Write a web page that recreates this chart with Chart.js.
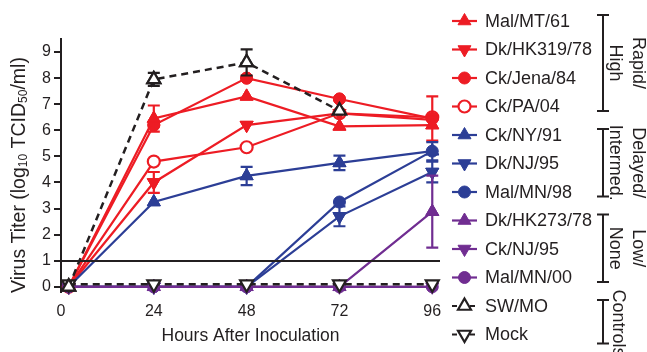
<!DOCTYPE html>
<html>
<head>
<meta charset="utf-8">
<script src="https://cdn.jsdelivr.net/npm/chart.js"></script>
<style>
  html, body { margin: 0; padding: 0; background: #fff; }
</style>
</head>
<body>
<canvas id="grafico" width="647" height="352"></canvas>
<script>
// data
const hours = [2, 24, 48, 72, 96];
const xTicks = [0, 24, 48, 72, 96];
const yTicks = [0, 1, 2, 3, 4, 5, 6, 7, 8, 9];
const detectionLimit = 1;

const malMT61 = [0, 6.45, 7.3, 6.15, 6.2];
const malMT61Err = [null, 0.5, null, null, null];
const dkHK319 = [0, 4.0, 6.2, 6.65, 6.4];
const dkHK319Err = [null, 0.4, null, null, null];
const ckJena = [0, 6.2, 8.0, 7.2, 6.45];
const ckJenaErr = [null, null, null, null, 0.85];
const ckPA = [0, 4.8, 5.35, 6.65, 6.5];
const ckNY = [0, 3.25, 4.25, 4.75, 5.2];
const ckNYErr = [null, null, 0.35, 0.28, 0.35];
const dkNJ = [0, 0, 0, 2.7, 4.4];
const dkNJErr = [null, null, null, 0.38, 0.4];
const malMN98 = [0, 0, 0, 3.25, 5.2];
const dkHK273 = [0, 0, 0, 0, 2.88];
const dkHK273Err = [null, null, null, null, 1.38];
const ckNJ95 = [0, 0, 0, 0, 0];
const malMN00 = [0, 0, 0, 0, 0];
const swMO = [0, 7.95, 8.6, 6.75, null];
const swMOErr = [null, 0.25, 0.5, null, null];
const mock = [0.1, 0.1, 0.1, 0.1, 0.1];

const seriesNames = ['Mal/MT/61', 'Dk/HK319/78', 'Ck/Jena/84', 'Ck/PA/04',
  'Ck/NY/91', 'Dk/NJ/95', 'Mal/MN/98',
  'Dk/HK273/78', 'Ck/NJ/95', 'Mal/MN/00',
  'SW/MO', 'Mock'];

const ROJO = 'rgb(237, 28, 36)';
const AZUL = 'rgb(44, 62, 150)';
const LILA = 'rgb(112, 45, 145)';
const NEGRO = '#231f20';
const FUENTE = '"Liberation Sans", Arial, sans-serif';

function serie(i, valores, errores, color, estilo, abajo, hueco, orden) {
  const control = color === NEGRO;
  return {
    label: seriesNames[i],
    data: valores.map((v, k) => ({ x: hours[k], y: v })),
    errores: errores,
    borderColor: color,
    backgroundColor: color,
    borderWidth: control ? 2.5 : 2.2,
    borderDash: control ? [7, 5] : [],
    pointStyle: estilo,
    pointRotation: abajo ? 180 : 0,
    pointRadius: estilo === 'circle' ? 6 : 7.5,
    pointBorderWidth: hueco ? 2.2 : 1,
    pointBorderColor: color,
    pointBackgroundColor: hueco ? '#fff' : color,
    spanGaps: false,
    clip: false,
    order: orden
  };
}

const datasets = [
  serie(0, malMT61, malMT61Err, ROJO, 'triangle', false, false, 3),
  serie(1, dkHK319, dkHK319Err, ROJO, 'triangle', true, false, 3),
  serie(2, ckJena, ckJenaErr, ROJO, 'circle', false, false, 3),
  serie(3, ckPA, null, ROJO, 'circle', false, true, 3),
  serie(4, ckNY, ckNYErr, AZUL, 'triangle', false, false, 2),
  serie(5, dkNJ, dkNJErr, AZUL, 'triangle', true, false, 2),
  serie(6, malMN98, null, AZUL, 'circle', false, false, 2),
  serie(7, dkHK273, dkHK273Err, LILA, 'triangle', false, false, 1),
  serie(8, ckNJ95, null, LILA, 'triangle', true, false, 1),
  serie(9, malMN00, null, LILA, 'circle', false, false, 1),
  serie(10, swMO, swMOErr, NEGRO, 'triangle', false, true, 0),
  serie(11, mock, null, NEGRO, 'triangle', true, true, 0)
];

// bracket groups on the right of the legend
const grupos = [
  { textos: ['Rapid/', 'High'], desde: 0, hasta: 3 },
  { textos: ['Delayed/', 'Intermed.'], desde: 4, hasta: 6 },
  { textos: ['Low/', 'None'], desde: 7, hasta: 9 },
  { textos: ['Controls'], desde: 10, hasta: 11 }
];

function marcador(ctx, ds, x, y) {
  const r = ds.pointRadius;
  ctx.save();
  ctx.fillStyle = ds.pointBackgroundColor;
  ctx.strokeStyle = ds.pointBorderColor;
  ctx.lineWidth = ds.pointBorderWidth;
  ctx.setLineDash([]);
  ctx.beginPath();
  if (ds.pointStyle === 'circle') {
    ctx.arc(x, y, r, 0, Math.PI * 2);
  } else {
    let a = ds.pointRotation * Math.PI / 180;
    for (let k = 0; k < 3; k++) {
      const px = x + Math.sin(a) * r, py = y - Math.cos(a) * r;
      if (k === 0) ctx.moveTo(px, py); else ctx.lineTo(px, py);
      a += 2 * Math.PI / 3;
    }
    ctx.closePath();
  }
  ctx.fill();
  ctx.stroke();
  ctx.restore();
}

const barrasError = {
  id: 'barrasError',
  afterDatasetDraw(chart, args) {
    const ds = chart.data.datasets[args.index];
    if (!ds.errores) return;
    const ctx = chart.ctx, xs = chart.scales.x, ys = chart.scales.y;
    ctx.save();
    ctx.strokeStyle = ds.borderColor;
    ctx.lineWidth = 2.2;
    ds.errores.forEach((e, k) => {
      if (e == null) return;
      const x = xs.getPixelForValue(ds.data[k].x);
      const y1 = ys.getPixelForValue(ds.data[k].y + e);
      const y2 = ys.getPixelForValue(ds.data[k].y - e);
      ctx.beginPath();
      ctx.moveTo(x, y1); ctx.lineTo(x, y2);
      ctx.moveTo(x - 6, y1); ctx.lineTo(x + 6, y1);
      ctx.moveTo(x - 6, y2); ctx.lineTo(x + 6, y2);
      ctx.stroke();
    });
    ctx.restore();
    // redraw markers over the bars
    args.meta.data.forEach((p, k) => {
      if (ds.data[k].y != null) marcador(ctx, ds, p.x, p.y);
    });
  }
};

const extras = {
  id: 'extras',
  afterDatasetsDraw(chart) {
    const ctx = chart.ctx, area = chart.chartArea, ys = chart.scales.y;
    // detection limit line
    const yl = Math.round(ys.getPixelForValue(detectionLimit));
    ctx.save();
    ctx.strokeStyle = NEGRO;
    ctx.lineWidth = 2;
    ctx.beginPath();
    ctx.moveTo(area.left, yl);
    ctx.lineTo(area.right, yl);
    ctx.stroke();
    ctx.restore();
  },
  afterDraw(chart) {
    const ctx = chart.ctx;
    ctx.save();
    ctx.fillStyle = NEGRO;
    ctx.textBaseline = 'middle';

    // y axis title with subscripts
    const partes = [['Virus Titer (log', 19.5, 0], ['10', 12, 4], [' TCID', 19.5, 0], ['50', 12, 4], ['/ml)', 19.5, 0]];
    let ancho = 0;
    partes.forEach(p => { ctx.font = p[1] + 'px ' + FUENTE; ancho += ctx.measureText(p[0]).width; });
    ctx.translate(20, 175);
    ctx.rotate(-Math.PI / 2);
    let cx = -ancho / 2;
    ctx.textAlign = 'left';
    partes.forEach(p => {
      ctx.font = p[1] + 'px ' + FUENTE;
      ctx.fillText(p[0], cx, p[2]);
      cx += ctx.measureText(p[0]).width;
    });
    ctx.setTransform(1, 0, 0, 1, 0, 0);

    // legend
    const fila0 = 21, paso = 28.5;
    chart.data.datasets.forEach((ds, i) => {
      const y = fila0 + i * paso;
      ctx.strokeStyle = ds.borderColor;
      ctx.lineWidth = 2.2;
      ctx.setLineDash(ds.borderColor === NEGRO ? [5, 4] : []);
      ctx.beginPath();
      ctx.moveTo(452, y); ctx.lineTo(477, y);
      ctx.stroke();
      ctx.setLineDash([]);
      marcador(ctx, ds, 464.5, y);
      ctx.fillStyle = NEGRO;
      ctx.font = '18px ' + FUENTE;
      ctx.textAlign = 'left';
      ctx.fillText(ds.label, 485, y + 1);
    });

    // brackets
    ctx.strokeStyle = NEGRO;
    ctx.lineWidth = 2;
    grupos.forEach((g, n) => {
      const top = fila0 + g.desde * paso - 6;
      const bot = fila0 + g.hasta * paso + (n === 3 ? 9 : 4.5);
      ctx.beginPath();
      ctx.moveTo(603, top); ctx.lineTo(603, bot);
      ctx.moveTo(597, top); ctx.lineTo(609, top);
      ctx.moveTo(597, bot); ctx.lineTo(609, bot);
      ctx.stroke();
      const my = n === 3 ? 323 : (top + bot) / 2;
      ctx.save();
      ctx.translate(g.textos.length === 1 ? 618 : 626.5, my);
      ctx.rotate(Math.PI / 2);
      ctx.font = '18px ' + FUENTE;
      ctx.textAlign = 'center';
      if (g.textos.length === 1) {
        ctx.fillText(g.textos[0], 0, 0);
      } else {
        ctx.fillText(g.textos[0], 0, -11.5);
        ctx.fillText(g.textos[1], 0, 11.5);
      }
      ctx.restore();
    });
    ctx.restore();
  }
};

new Chart(document.getElementById('grafico'), {
  type: 'line',
  data: { datasets: datasets },
  options: {
    responsive: false,
    animation: false,
    devicePixelRatio: 1,
    layout: { padding: { top: 39, right: 207, left: 0, bottom: 0 } },
    plugins: { legend: { display: false }, tooltip: { enabled: false } },
    font: { family: FUENTE },
    scales: {
      x: {
        type: 'linear',
        min: 0,
        max: 98,
        afterBuildTicks: s => { s.ticks = xTicks.map(v => ({ value: v })); },
        afterFit: s => { s.height = 60; },
        grid: { display: false, drawTicks: false },
        border: { display: false },
        ticks: { color: NEGRO, font: { size: 16, family: FUENTE }, padding: 10, maxRotation: 0 },
        title: { display: true, text: 'Hours After Inoculation', color: NEGRO, font: { size: 17.5, family: FUENTE }, padding: { top: 0, bottom: 5 } }
      },
      y: {
        min: -0.2,
        max: 9.5,
        afterBuildTicks: s => { s.ticks = yTicks.map(v => ({ value: v })); },
        afterFit: s => { s.width = 61; },
        grid: { drawOnChartArea: false, drawTicks: true, tickLength: 7, color: NEGRO, lineWidth: 2 },
        border: { display: true, color: NEGRO, width: 2 },
        ticks: { color: NEGRO, font: { size: 16, family: FUENTE }, padding: 3 }
      }
    }
  },
  plugins: [barrasError, extras]
});
</script>
</body>
</html>
